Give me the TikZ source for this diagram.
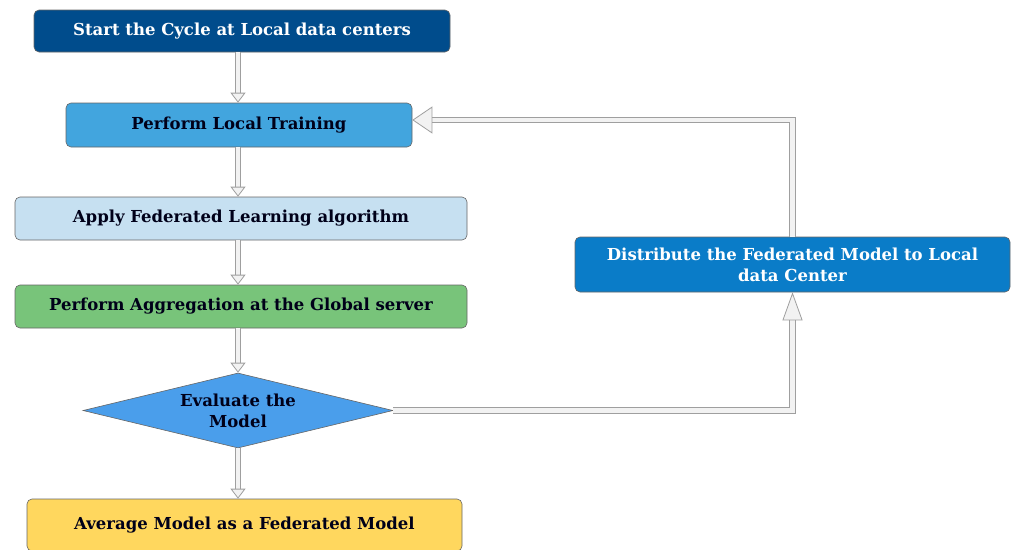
\documentclass[tikz,border=0pt]{standalone}
\usepackage{fontspec}
\setmainfont{DejaVu Serif}
\usetikzlibrary{arrows.meta,positioning,shapes.geometric}

\definecolor{startblue}{RGB}{0,76,140}
\definecolor{trainblue}{RGB}{66,165,222}
\definecolor{applyblue}{RGB}{198,224,241}
\definecolor{aggrgreen}{RGB}{120,196,122}
\definecolor{evalblue}{RGB}{74,158,235}
\definecolor{avgyellow}{RGB}{255,215,94}
\definecolor{distblue}{RGB}{10,124,200}

\tikzset{
  box/.style={rectangle, rounded corners=5pt, draw=gray!80!black, line width=0.6pt,
    align=center, inner sep=0pt, text=black!90!blue,
    font=\bfseries\fontsize{16.5}{21}\selectfont},
  decision/.style={diamond, draw=gray!80!black, line width=0.6pt, align=center,
    inner sep=0pt, aspect=4.1, text=black!90!blue,
    font=\bfseries\fontsize{16.5}{21}\selectfont},
  flow/.style={draw=gray!75, double=gray!10, double distance=4.6pt, line width=0.8pt,
    -{Triangle[open, fill=gray!10, line width=0.8pt, length=10pt, width=15pt]}},
  backup/.style={flow, -{Triangle[open, fill=gray!10, line width=0.8pt, length=28pt, width=20pt]}},
  backleft/.style={flow, -{Triangle[open, fill=gray!10, line width=0.8pt, length=20pt, width=27pt]}}
}

\begin{document}
\begin{tikzpicture}[x=1pt,y=-1pt]
\useasboundingbox (0,0) rectangle (1011,549);
% main column
\node[box, fill=startblue, text=white, minimum width=416pt, minimum height=42pt]
  (start) at (242,31) {Start the Cycle at Local data centers};
\node[box, fill=trainblue, minimum width=346pt, minimum height=44pt]
  (train) at (239,125) {Perform Local Training};
\node[box, fill=applyblue, minimum width=452pt, minimum height=43pt]
  (apply) at (241,218.5) {Apply Federated Learning algorithm};
\node[box, fill=aggrgreen, minimum width=452pt, minimum height=43pt]
  (aggr) at (241,306.5) {Perform Aggregation at the Global server};
\node[decision, fill=evalblue, minimum width=310pt, minimum height=75pt]
  (eval) at (238,410.5) {Evaluate the\\Model};
\node[box, fill=avgyellow, minimum width=435pt, minimum height=52pt]
  (avg) at (244.5,525) {Average Model as a Federated Model};
% feedback branch
\node[box, fill=distblue, text=white, minimum width=435pt, minimum height=55pt]
  (dist) at (792.5,264.5) {Distribute the Federated Model to Local\\data Center};

% downward steps
\draw[flow] (start.south -| eval) -- (train.north -| eval);
\draw[flow] (train.south -| eval) -- (apply.north -| eval);
\draw[flow] (apply.south -| eval) -- (aggr.north -| eval);
\draw[flow] (aggr.south -| eval) -- (eval.north);
\draw[flow] (eval.south) -- (avg.north -| eval);
% loop back to local training
\draw[backup] (eval.east) -- (eval.east -| dist) -- (dist.south);
\draw[backleft] (dist.north) |- ([yshift=5pt]train.east);
\end{tikzpicture}
\end{document}
